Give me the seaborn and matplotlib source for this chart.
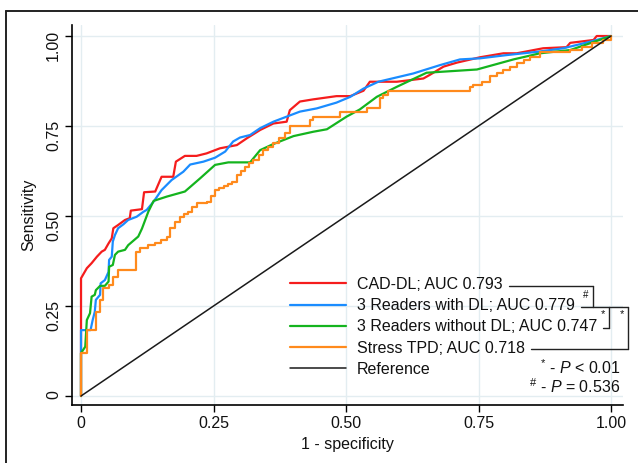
import numpy as np
import pandas as pd
import seaborn as sns
import matplotlib.pyplot as plt
from matplotlib.lines import Line2D

# ROC curves: 1 - specificity (x) vs sensitivity (y)
red_x = [0, 0, 0.011, 0.020, 0.030, 0.039, 0.045, 0.052, 0.058, 0.061, 0.070, 0.083, 0.092, 0.094,
         0.115, 0.119, 0.140, 0.152, 0.174, 0.179, 0.196, 0.218, 0.237, 0.262, 0.294, 0.313, 0.338,
         0.363, 0.388, 0.394, 0.413, 0.438, 0.482, 0.508, 0.533, 0.545, 0.596, 0.646, 0.658, 0.684,
         0.709, 0.753, 0.797, 0.822, 0.872, 0.916, 0.923, 0.967, 0.973, 1.0]
red_y = [0, 0.327, 0.355, 0.369, 0.387, 0.401, 0.406, 0.424, 0.438, 0.466, 0.475, 0.489, 0.494, 0.515,
         0.519, 0.566, 0.568, 0.609, 0.609, 0.651, 0.667, 0.667, 0.674, 0.688, 0.697, 0.716, 0.739,
         0.757, 0.762, 0.794, 0.818, 0.824, 0.833, 0.833, 0.848, 0.873, 0.873, 0.882, 0.892, 0.915,
         0.926, 0.941, 0.952, 0.952, 0.966, 0.969, 0.981, 0.989, 1.0, 1.0]

blue_x = [0, 0, 0, 0.018, 0.022, 0.026, 0.028, 0.036, 0.037, 0.045, 0.052, 0.053, 0.058, 0.060, 0.064,
          0.070, 0.080, 0.089, 0.105, 0.118, 0.124, 0.137, 0.152, 0.171, 0.193, 0.206, 0.231, 0.253,
          0.272, 0.287, 0.300, 0.319, 0.338, 0.363, 0.388, 0.413, 0.445, 0.482, 0.508, 0.533, 0.561,
          0.627, 0.677, 0.715, 0.753, 0.803, 0.860, 0.910, 0.960, 1.0]
blue_y = [0, 0.119, 0.183, 0.183, 0.211, 0.234, 0.267, 0.281, 0.313, 0.322, 0.345, 0.378, 0.387, 0.429,
          0.447, 0.466, 0.477, 0.489, 0.498, 0.512, 0.517, 0.540, 0.572, 0.600, 0.623, 0.643, 0.651,
          0.662, 0.679, 0.707, 0.718, 0.725, 0.744, 0.762, 0.776, 0.790, 0.799, 0.815, 0.831, 0.854,
          0.873, 0.896, 0.919, 0.935, 0.938, 0.947, 0.956, 0.966, 0.984, 1.0]

green_x = [0, 0, 0.008, 0.011, 0.017, 0.020, 0.026, 0.028, 0.036, 0.045, 0.052, 0.053, 0.060, 0.064,
           0.070, 0.083, 0.089, 0.108, 0.115, 0.127, 0.137, 0.162, 0.196, 0.225, 0.253, 0.278, 0.319,
           0.338, 0.363, 0.401, 0.438, 0.464, 0.501, 0.526, 0.558, 0.596, 0.652, 0.747, 0.816, 0.866,
           0.923, 1.0]
green_y = [0, 0.119, 0.137, 0.211, 0.230, 0.276, 0.281, 0.294, 0.306, 0.306, 0.318, 0.359, 0.364, 0.392,
           0.401, 0.406, 0.419, 0.443, 0.465, 0.512, 0.542, 0.554, 0.568, 0.605, 0.642, 0.649, 0.649,
           0.683, 0.700, 0.722, 0.734, 0.741, 0.776, 0.796, 0.831, 0.859, 0.898, 0.907, 0.935, 0.952,
           0.961, 1.0]

orange_x = [0, 0, 0.011, 0.028, 0.036, 0.042, 0.052, 0.061, 0.070, 0.104, 0.112, 0.127, 0.140, 0.150,
            0.162, 0.168, 0.178, 0.187, 0.195, 0.202, 0.210, 0.218, 0.237, 0.245, 0.253, 0.261, 0.269,
            0.277, 0.284, 0.294, 0.302, 0.309, 0.317, 0.325, 0.335, 0.344, 0.353, 0.363, 0.374, 0.385,
            0.394, 0.432, 0.438, 0.489, 0.539, 0.564, 0.570, 0.580, 0.734, 0.740, 0.756, 0.772, 0.785,
            0.797, 0.810, 0.822, 0.835, 0.847, 0.866, 0.923, 0.945, 0.965, 0.985, 1.0]
orange_y = [0, 0.119, 0.183, 0.234, 0.267, 0.299, 0.308, 0.331, 0.350, 0.401, 0.410, 0.419, 0.424, 0.433,
            0.443, 0.466, 0.482, 0.498, 0.505, 0.512, 0.524, 0.535, 0.540, 0.556, 0.572, 0.578, 0.583,
            0.589, 0.595, 0.614, 0.625, 0.637, 0.646, 0.656, 0.670, 0.683, 0.692, 0.702, 0.716, 0.730,
            0.750, 0.767, 0.776, 0.790, 0.799, 0.827, 0.836, 0.848, 0.859, 0.864, 0.873, 0.889, 0.897,
            0.906, 0.915, 0.924, 0.933, 0.943, 0.956, 0.961, 0.970, 0.980, 0.990, 1.0]

ref_x = [0, 1]
ref_y = [0, 1]

labels = ['CAD-DL; AUC 0.793', '3 Readers with DL; AUC 0.779',
          '3 Readers without DL; AUC 0.747', 'Stress TPD; AUC 0.718', 'Reference']
ticks = [0, 0.25, 0.5, 0.75, 1.0]
tick_labels = ['0', '0.25', '0.50', '0.75', '1.00']

sns.set_theme(style='ticks')
plt.rcParams['font.family'] = ['Liberation Sans', 'DejaVu Sans']
plt.rcParams['mathtext.fontset'] = 'custom'
plt.rcParams['mathtext.rm'] = 'Liberation Sans'
plt.rcParams['mathtext.it'] = 'Liberation Sans:italic'

W, H = 638, 463
fs = 11.5
fig = plt.figure(figsize=(W / 100, H / 100), dpi=100)
ax = fig.add_axes([72 / W, 1 - 405 / H, (623 - 72) / W, (405 - 25) / H])

kw = dict(ax=ax, estimator=None, sort=False, lw=1.6)
sns.lineplot(x=red_x, y=red_y, color='#f51d1d', label=labels[0], **kw)
sns.lineplot(x=blue_x, y=blue_y, color='#1a8cff', label=labels[1], **kw)
sns.lineplot(x=green_x, y=green_y, color='#14b41e', label=labels[2], **kw)
sns.lineplot(x=orange_x, y=orange_y, color='#ff8a1c', label=labels[3], drawstyle='steps-post', **kw)
sns.lineplot(x=ref_x, y=ref_y, ax=ax, color='#1a1a1a', lw=1.1, label=labels[4])

ax.set_xlim(-0.017, 1.0226)
ax.set_ylim(-0.025, 1.0306)
ax.set_xticks(ticks, tick_labels)
ax.set_yticks(ticks, tick_labels)
ax.tick_params(direction='out', length=5, width=1, color='black', labelsize=fs, pad=3, labelcolor='#111')
ax.tick_params(axis='y', labelrotation=90)
ax.grid(True, color='#e3edf1', lw=1)
ax.set_axisbelow(True)
sns.despine(ax=ax)
for s in ['left', 'bottom']:
    ax.spines[s].set_linewidth(1.2)
    ax.spines[s].set_color('black')
ax.set_xlabel('1 - specificity', fontsize=fs, labelpad=4, color='#111')
ax.set_ylabel('Sensitivity', fontsize=fs, labelpad=7, color='#111')

leg = ax.legend(loc='upper left', bbox_to_anchor=(290 / W, 1 - 277 / H), bbox_transform=fig.transFigure,
                frameon=False, fontsize=fs, handlelength=3.5, handletextpad=0.7, labelspacing=0.39,
                borderpad=0, borderaxespad=0)
for t in leg.get_texts():
    t.set_color('#111')


def fline(x0, y0, x1, y1, lw=1.0):
    fig.add_artist(Line2D([x0 / W, x1 / W], [1 - y0 / H, 1 - y1 / H], color='#222', lw=lw))


# significance brackets next to the legend entries
fig.canvas.draw()
ends = []
for t in leg.get_texts()[:4]:
    bb = t.get_window_extent()
    ends.append((bb.x1 + 6, H - (bb.y0 + bb.y1) / 2 + 1))
fline(ends[0][0], ends[0][1], 593, ends[0][1])
fline(593, ends[0][1], 593, ends[1][1])
fline(ends[1][0], ends[1][1], 628, ends[1][1])
fline(609, ends[1][1], 609, ends[2][1])
fline(ends[2][0], ends[2][1], 609, ends[2][1])
fline(628, ends[1][1], 628, ends[3][1])
fline(ends[3][0], ends[3][1], 628, ends[3][1])
fig.text(586 / W, 1 - (ends[0][1] + 9) / H, '#', fontsize=7, ha='center', va='center', color='#111')
fig.text(603 / W, 1 - (ends[1][1] + 7) / H, '*', fontsize=8, ha='center', va='center', color='#111')
fig.text(622 / W, 1 - (ends[1][1] + 7) / H, '*', fontsize=8, ha='center', va='center', color='#111')

fig.text(620 / W, 1 - 368 / H, r'$^{*}$ - $\mathit{P}$ < 0.01', fontsize=fs, ha='right', va='center', color='#111')
fig.text(620 / W, 1 - 387 / H, r'$^{\#}$ - $\mathit{P}$ = 0.536', fontsize=fs, ha='right', va='center', color='#111')

# outer frame (top and left edges)
fline(6, 11, W, 11, lw=1.4)
fline(6, 11, 6, H, lw=1.4)

fig.savefig('out.png', dpi=100)
